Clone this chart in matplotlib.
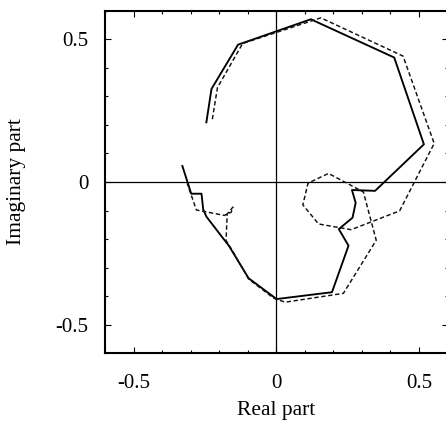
import matplotlib
matplotlib.use("Agg")
import matplotlib.pyplot as plt
from matplotlib.ticker import MultipleLocator, FixedLocator

# Eigenvalue trajectories in the complex plane
solid_re = [-0.245, -0.227, -0.134, 0.121, 0.413, 0.517, 0.346, 0.265, 0.278,
            0.267, 0.219, 0.253, 0.195, 0.001, -0.097, -0.167, -0.192, -0.245,
            -0.256, -0.262, -0.298, -0.329]
solid_im = [0.209, 0.326, 0.481, 0.570, 0.436, 0.132, -0.031, -0.028, -0.073,
            -0.125, -0.165, -0.223, -0.386, -0.410, -0.337, -0.222, -0.190, -0.121,
            -0.096, -0.041, -0.041, 0.056]

dashed_re = [-0.224, -0.206, -0.118, 0.156, 0.444, 0.553, 0.432, 0.262, 0.148,
             0.093, 0.111, 0.183, 0.305, 0.350, 0.235, 0.031, -0.009, -0.097,
             -0.155, -0.176, -0.172, -0.152, -0.158, -0.182, -0.280, -0.312]
dashed_im = [0.220, 0.331, 0.485, 0.575, 0.441, 0.135, -0.101, -0.167, -0.147,
             -0.080, -0.004, 0.030, -0.035, -0.204, -0.390, -0.421, -0.407, -0.340,
             -0.238, -0.205, -0.112, -0.088, -0.106, -0.117, -0.098, -0.005]

major_ticks = [-0.5, 0.0, 0.5]
tick_labels = ["-0.5", "0", "0.5"]

plt.rcParams["font.family"] = ["Liberation Serif", "DejaVu Serif"]

W, H = 446, 423
fig = plt.figure(figsize=(W / 100, H / 100), dpi=100)
left, right, top, bottom = 105, 447.6, 10.7, 353.3
ax = fig.add_axes([left / W, 1 - bottom / H, (right - left) / W, (bottom - top) / H])

ax.axhline(0, color="black", lw=0.9, zorder=1)
ax.axvline(0, color="black", lw=0.9, zorder=1)

ax.plot(solid_re, solid_im, color="black", lw=1.35, zorder=3)
ax.plot(dashed_re, dashed_im, color="#111111", lw=1.05, linestyle=(0, (3, 1.8)), zorder=3)

ax.set_xlim(-0.6, 0.6)
ax.set_ylim(-0.6, 0.6)

for axis in (ax.xaxis, ax.yaxis):
    axis.set_major_locator(FixedLocator(major_ticks))
    axis.set_minor_locator(MultipleLocator(0.1))
ax.set_xticklabels(tick_labels)
ax.set_yticklabels(tick_labels)

ax.tick_params(which="both", direction="in", top=True, right=True, width=0.8,
               labelsize=15)
ax.tick_params(axis="x", which="major", length=4, pad=15)
ax.tick_params(axis="y", which="major", length=4, pad=12)
ax.tick_params(which="minor", length=2)

for sp in ax.spines.values():
    sp.set_linewidth(1.5)

ax.set_xlabel("Real part", fontsize=15.5)
ax.set_ylabel("Imaginary part", fontsize=15.5)
ax.xaxis.set_label_coords(0.499, -0.14)
ax.yaxis.set_label_coords(-0.232, 0.5)

fig.savefig("out.png", dpi=100)
